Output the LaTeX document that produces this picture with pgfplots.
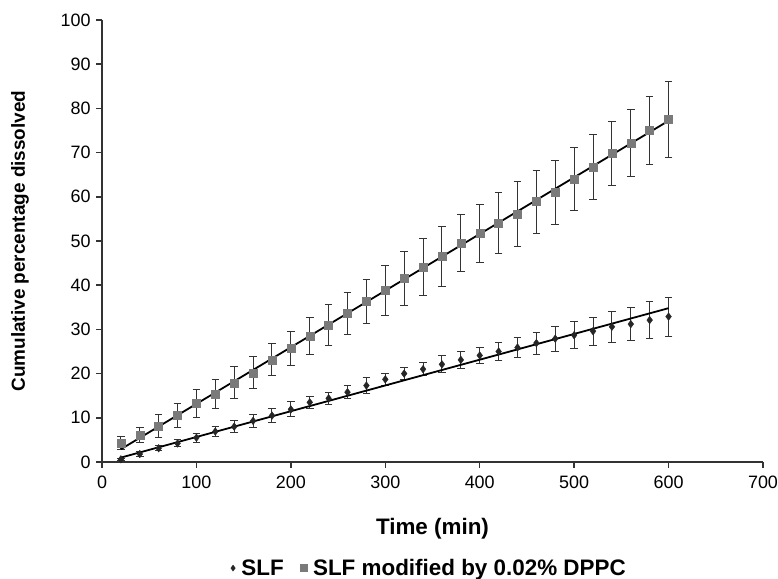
\documentclass[border=0pt]{standalone}
\usepackage{pgfplots}
\pgfplotsset{compat=1.18}
\usepackage{fontspec}
\setmainfont{Liberation Sans}
\definecolor{dppc}{HTML}{7A7A7A}
\definecolor{slf}{HTML}{262626}
\begin{document}
\begin{tikzpicture}
\path[use as bounding box] (0,0) rectangle (778bp,579bp);
\begin{axis}[
  at={(102bp,117bp)}, anchor=south west,
  scale only axis, width=661bp, height=442bp,
  xmin=0, xmax=700, ymin=0, ymax=100,
  xtick={0,100,...,700}, ytick={0,10,...,100},
  axis x line*=bottom, axis y line*=left,
  axis line style={line width=1.5pt, black!80, -},
  tick style={line width=1.5pt, black!80},
  tick align=outside, major tick length=6bp,
  tick label style={font=\fontsize{18}{20}\selectfont},
  xticklabel style={yshift=-4bp},
  yticklabel style={xshift=-2bp},
  /pgf/number format/assume math mode=true,
  xlabel={\bfseries Time (min)},
  ylabel={\bfseries Cumulative percentage dissolved},
  xlabel style={font=\fontsize{22.5}{24}\selectfont, at={(axis description cs:0.5,-0.152)}, anchor=center},
  ylabel style={font=\fontsize{19}{21}\selectfont, at={(axis description cs:-0.124,0.5)}, anchor=center, rotate=0},
  legend style={draw=none, at={(0.495,-0.24)}, anchor=center, legend columns=-1,
    font=\fontsize{22.5}{24}\selectfont\bfseries, column sep=4pt,
    /tikz/every even column/.append style={column sep=14pt}},
  legend cell align=left,
  error bars/error bar style={line width=1pt, black!80},
  error bars/error mark options={rotate=90, mark size=3.8bp, line width=1pt, black!80},
]
\addplot[only marks, mark=diamond*, mark size=3.8bp, color=slf,
  legend image code/.code={\draw[slf, fill=slf] (0cm,0cm) +(0,3bp) -- +(2.2bp,0) -- +(0,-3bp) -- +(-2.2bp,0) -- cycle;},
  error bars/.cd, y dir=both, y explicit]
  table[x=x, y=y, y error=e] {
x y e
20 0.6 0.3
40 1.8 0.5
60 3.1 0.6
80 4.2 0.8
100 5.5 1.0
120 6.9 1.1
140 8.0 1.3
160 9.3 1.5
180 10.5 1.6
200 11.9 1.7
220 13.5 1.4
240 14.4 1.4
260 15.8 1.5
280 17.3 1.8
300 18.7 1.4
320 20.0 1.4
340 21.0 1.5
360 22.1 1.9
380 23.1 1.9
400 24.1 1.9
420 25.0 2.0
440 25.9 2.2
460 26.9 2.5
480 27.9 2.8
500 28.7 3.0
520 29.6 3.2
540 30.6 3.5
560 31.2 3.7
580 32.1 4.1
600 32.9 4.4
};
\addlegendentry{SLF}
\addplot[only marks, mark=square*, mark size=4bp, color=dppc,
  legend image code/.code={\fill[dppc] (-3.5bp,-3.5bp) rectangle (3.5bp,3.5bp);},
  error bars/.cd, y dir=both, y explicit]
  table[x=x, y=y, y error=e] {
x y e
20 4.3 1.5
40 6.1 1.7
60 8.1 2.6
80 10.6 2.7
100 13.3 3.2
120 15.4 3.2
140 17.9 3.6
160 20.2 3.6
180 23.1 3.6
200 25.7 3.8
220 28.5 4.2
240 31.0 4.6
260 33.6 4.8
280 36.3 5.0
300 38.8 5.6
320 41.5 6.2
340 44.1 6.4
360 46.5 6.7
380 49.5 6.4
400 51.7 6.6
420 54.0 6.9
440 56.1 7.3
460 58.9 7.1
480 61.0 7.2
500 64.0 7.2
520 66.8 7.3
540 69.8 7.2
560 72.2 7.6
580 75.0 7.6
600 77.5 8.5
};
\addlegendentry{SLF modified by 0.02\% DPPC}
\addplot[black, line width=1.8pt, forget plot] coordinates {(20,1.0) (600,34.8)};
\addplot[black, line width=1.8pt, forget plot] coordinates {(20,2.9) (600,77.2)};
\end{axis}
\end{tikzpicture}
\end{document}
